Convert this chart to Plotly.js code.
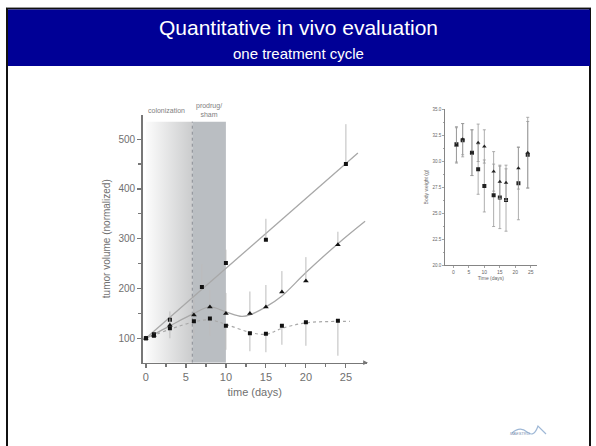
<!DOCTYPE html>
<html>
<head>
<meta charset="utf-8">
<script src="https://cdn.plot.ly/plotly-3.0.1.min.js"></script>
<style>html,body{margin:0;padding:0;background:#fff;}#chart{width:596px;height:446px;}</style>
</head>
<body>
<div id="chart"></div>
<script>
// ---- slide texts ----
const slideTitle = 'Quantitative in vivo evaluation';
const slideSubtitle = 'one treatment cycle';

// ---- main chart: tumor volume ----
const phaseNames = ['colonization', 'prodrug/<br>sham'];
const phaseStart = [0, 5.8];
const phaseEnd = [5.8, 10];
const phaseTop = 535;

// series A (untreated, linear growth)
const aDays = [0, 1, 3, 7, 10, 15, 25];
const aVol = [100, 108, 137, 203, 251, 298, 450];
const aErrUp = [0, 4, 17, 46, 27, 42, 80];
const aFitDays = [0, 26.5];
const aFitVol = [100, 472];

// series B
const bDays = [0, 1, 3, 6, 8, 10, 13, 15, 17, 20, 24];
const bVol = [100, 106, 126, 147, 163, 150, 150, 163, 193, 215, 288];
const bErrUp = [0, 4, 14, 34, 34, 41, 44, 44, 42, 48, 26];
const bFitDays = [0, 1, 3, 6, 8, 10, 12, 13, 15, 17, 20, 24, 27.4];
const bFitVol = [100, 108, 125, 150, 163, 153, 144, 147, 163, 185, 232, 290, 335];

// series C
const cDays = [0, 1, 3, 6, 8, 10, 13, 15, 17, 20, 24];
const cVol = [100, 105, 120, 134, 140, 125, 110, 109, 125, 132, 135];
const cErrDown = [0, 3, 20, 31, 35, 48, 36, 37, 38, 47, 70];
const cFitDays = [0, 3, 6, 8, 10, 13, 15, 17, 20, 24, 25.5];
const cFitVol = [100, 118, 133, 137, 128, 112, 108, 120, 131, 134, 134];

const mainXTicks = [0, 5, 10, 15, 20, 25];
const mainYTicks = [100, 200, 300, 400, 500];

// ---- inset: body weight ----
const wDays = [1, 3, 6, 8, 10, 13, 15, 17, 21, 24];
const wSquare = [31.6, 32.0, 30.8, 29.2, 27.6, 26.7, 26.5, 26.25, 27.85, 30.6];
const wSquareErr = [1.7, 1.6, 2.2, 2.4, 2.5, 3.0, 3.0, 3.0, 3.5, 3.2];
const wTriangle = [31.5, 32.1, 30.8, 31.75, 31.4, 29.0, 28.0, 27.9, 29.3, 30.8];
const wTriangleErr = [1.7, 1.5, 2.2, 1.8, 1.6, 1.9, 1.6, 1.7, 2.0, 3.4];
const insetXTicks = [0, 5, 10, 15, 20, 25];
const insetYTicks = [20.0, 22.5, 25.0, 27.5, 30.0, 32.5, 35.0];

const W = 596, H = 446;
const px = v => v / W;
const py = v => 1 - v / H;

const FONT = 'Liberation Sans Narrow, Liberation Sans, Arial, sans-serif';
const lineGray = '#a8a8a8';
const errGray = '#bcbcbc';

const traces = [];

// shaded phases
traces.push({
  x: [phaseStart[0], phaseEnd[0], phaseEnd[0], phaseStart[0], phaseStart[0]],
  y: [51, 51, phaseTop, phaseTop, 51],
  fill: 'toself', mode: 'none', hoverinfo: 'skip', showlegend: false,
  fillgradient: {type: 'horizontal', start: phaseStart[0], stop: phaseEnd[0],
    colorscale: [[0, '#fcfcfc'], [1, '#cbcccd']]},
  xaxis: 'x', yaxis: 'y'
});
traces.push({
  x: [phaseStart[1], phaseEnd[1], phaseEnd[1], phaseStart[1], phaseStart[1]],
  y: [51, 51, phaseTop, phaseTop, 51],
  fill: 'toself', mode: 'none', fillcolor: '#babec2', hoverinfo: 'skip', showlegend: false,
  xaxis: 'x', yaxis: 'y'
});
// dashed treatment start line
traces.push({
  x: [phaseStart[1], phaseStart[1]], y: [51, phaseTop], mode: 'lines',
  line: {color: '#8a8e94', width: 1, dash: 'dot'}, showlegend: false, hoverinfo: 'skip'
});

// fits
traces.push({x: aFitDays, y: aFitVol, mode: 'lines', line: {color: lineGray, width: 1.3}, showlegend: false});
traces.push({x: bFitDays, y: bFitVol, mode: 'lines', line: {color: lineGray, width: 1.3, shape: 'spline', smoothing: 1}, showlegend: false});
traces.push({x: cFitDays, y: cFitVol, mode: 'lines', line: {color: lineGray, width: 1.2, dash: '3px,3px', shape: 'spline', smoothing: 1}, showlegend: false});

// data
traces.push({x: aDays, y: aVol, mode: 'markers', marker: {symbol: 'square', size: 4, color: '#111'},
  error_y: {type: 'data', symmetric: false, array: aErrUp, arrayminus: aDays.map(() => 0), color: errGray, thickness: 1, width: 0},
  showlegend: false});
traces.push({x: bDays, y: bVol, mode: 'markers', marker: {symbol: 'triangle-up', size: 5, color: '#111'},
  error_y: {type: 'data', symmetric: false, array: bErrUp, arrayminus: bDays.map(() => 0), color: errGray, thickness: 1, width: 0},
  showlegend: false});
traces.push({x: cDays, y: cVol, mode: 'markers', marker: {symbol: 'square', size: 4, color: '#111'},
  error_y: {type: 'data', symmetric: false, array: cDays.map(() => 0), arrayminus: cErrDown, color: errGray, thickness: 1, width: 0},
  showlegend: false});

// inset
traces.push({x: wDays, y: wSquare, mode: 'markers', xaxis: 'x2', yaxis: 'y2',
  marker: {symbol: 'square', size: 4, color: '#222'},
  error_y: {type: 'data', array: wSquareErr, color: '#999', thickness: 0.8, width: 1.5},
  showlegend: false});
traces.push({x: wDays, y: wTriangle, mode: 'markers', xaxis: 'x2', yaxis: 'y2',
  marker: {symbol: 'triangle-up', size: 4, color: '#222'},
  error_y: {type: 'data', array: wTriangleErr, color: '#999', thickness: 0.8, width: 1.5},
  showlegend: false});

const shapes = [
  // slide frame
  {type: 'rect', xref: 'paper', yref: 'paper', x0: px(7), x1: px(590), y0: py(460), y1: py(8.5),
    line: {color: '#111', width: 2}, fillcolor: 'rgba(0,0,0,0)', layer: 'below'},
  {type: 'line', xref: 'paper', yref: 'paper', x0: px(7), x1: px(591), y0: py(7.5), y1: py(7.5),
    line: {color: '#9a9a9a', width: 1}},
  // banner
  {type: 'rect', xref: 'paper', yref: 'paper', x0: px(8), x1: px(590), y0: py(66), y1: py(9.5),
    line: {width: 0}, fillcolor: '#000096', layer: 'below'},
  // logo squiggle (decoration)
  {type: 'path', xref: 'paper', yref: 'paper',
    path: `M ${px(512)} ${py(433)} Q ${px(520)} ${py(426)} ${px(527)} ${py(432)} T ${px(538)} ${py(426)} L ${px(546)} ${py(434)}`,
    line: {color: '#9fb8d6', width: 1.2}, fillcolor: 'rgba(0,0,0,0)'}
];

const annotations = [
  {text: slideTitle, xref: 'paper', yref: 'paper', x: 0.5, y: py(28), showarrow: false,
    font: {family: FONT, size: 21, color: '#ffffff'}, xanchor: 'center', yanchor: 'middle'},
  {text: slideSubtitle, xref: 'paper', yref: 'paper', x: 0.5, y: py(53), showarrow: false,
    font: {family: FONT, size: 15, color: '#ffffff'}, xanchor: 'center', yanchor: 'middle'},
  {text: phaseNames[0], xref: 'x', yref: 'paper', x: (phaseStart[0] + phaseEnd[0]) / 2 - 0.3, y: py(111), showarrow: false,
    font: {family: FONT, size: 7, color: '#808080'}, yanchor: 'middle'},
  {text: phaseNames[1], xref: 'x', yref: 'paper', x: (phaseStart[1] + phaseEnd[1]) / 2, y: py(110), showarrow: false,
    font: {family: FONT, size: 7, color: '#808080'}, yanchor: 'middle'},
  // x axis arrow head
  {xref: 'paper', yref: 'paper', x: px(368), y: py(362.7), ax: -6, ay: 0, showarrow: true,
    arrowhead: 2, arrowsize: 0.8, arrowwidth: 1.2, arrowcolor: '#777', text: ''},
  // logo text
  {text: '<i>MAESTRO</i>', xref: 'paper', yref: 'paper', x: px(532), y: py(438), showarrow: false,
    font: {family: FONT, size: 4, color: '#7a8fb0'}}
];

const layout = {
  width: W, height: H,
  margin: {l: 0, r: 0, t: 0, b: 0},
  paper_bgcolor: '#ffffff', plot_bgcolor: 'rgba(0,0,0,0)',
  showlegend: false,
  xaxis: {
    domain: [px(142.7), px(366.7)], range: [-0.4, 27.6], anchor: 'y',
    showgrid: false, zeroline: false, showline: true, linecolor: '#777', linewidth: 1.5,
    ticks: 'outside', ticklen: 4, tickcolor: '#777', tickwidth: 1.2,
    tickvals: mainXTicks, ticktext: mainXTicks.map(String),
    minor: {tickvals: [2.5, 7.5, 12.5, 17.5, 22.5], ticks: 'outside', ticklen: 3, tickcolor: '#777'},
    tickfont: {family: FONT, size: 11, color: '#707070'},
    title: {text: 'time (days)', font: {family: FONT, size: 11, color: '#707070'}, standoff: 6}
  },
  yaxis: {
    domain: [py(362.7), py(114.7)], range: [51, 549], anchor: 'x',
    showgrid: false, zeroline: false, showline: true, linecolor: '#777', linewidth: 1.5,
    ticks: 'outside', ticklen: 4, tickcolor: '#777', tickwidth: 1.2,
    tickvals: mainYTicks, ticktext: mainYTicks.map(String),
    minor: {tickvals: [150, 250, 350, 450], ticks: 'outside', ticklen: 3, tickcolor: '#777'},
    tickfont: {family: FONT, size: 10, color: '#707070'},
    title: {text: 'tumor volume (normalized)', font: {family: FONT, size: 10, color: '#707070'}, standoff: 6}
  },
  xaxis2: {
    domain: [px(445), px(536.7)], range: [-2.7, 26.9], anchor: 'y2',
    showgrid: false, zeroline: false, showline: true, linecolor: '#666', linewidth: 0.8,
    ticks: 'outside', ticklen: 2, tickcolor: '#666', tickwidth: 0.6,
    tickvals: insetXTicks, ticktext: insetXTicks.map(String),
    tickfont: {family: FONT, size: 5, color: '#666'},
    title: {text: 'Time (days)', font: {family: FONT, size: 5, color: '#666'}, standoff: 2}
  },
  yaxis2: {
    domain: [py(265), py(109)], range: [20, 35], anchor: 'x2',
    showgrid: false, zeroline: false, showline: true, linecolor: '#666', linewidth: 0.8,
    ticks: 'outside', ticklen: 2, tickcolor: '#666', tickwidth: 0.6,
    tickvals: insetYTicks, ticktext: insetYTicks.map(v => v.toFixed(1)),
    minor: {tickvals: [21.25, 23.75, 26.25, 28.75, 31.25, 33.75], ticks: 'outside', ticklen: 1.5, tickcolor: '#666'},
    tickfont: {family: FONT, size: 4.5, color: '#666'},
    title: {text: 'Body weight (g)', font: {family: FONT, size: 5, color: '#666'}, standoff: 3}
  },
  shapes: shapes,
  annotations: annotations
};

Plotly.newPlot('chart', traces, layout, {displayModeBar: false, staticPlot: true});
</script>
</body>
</html>
